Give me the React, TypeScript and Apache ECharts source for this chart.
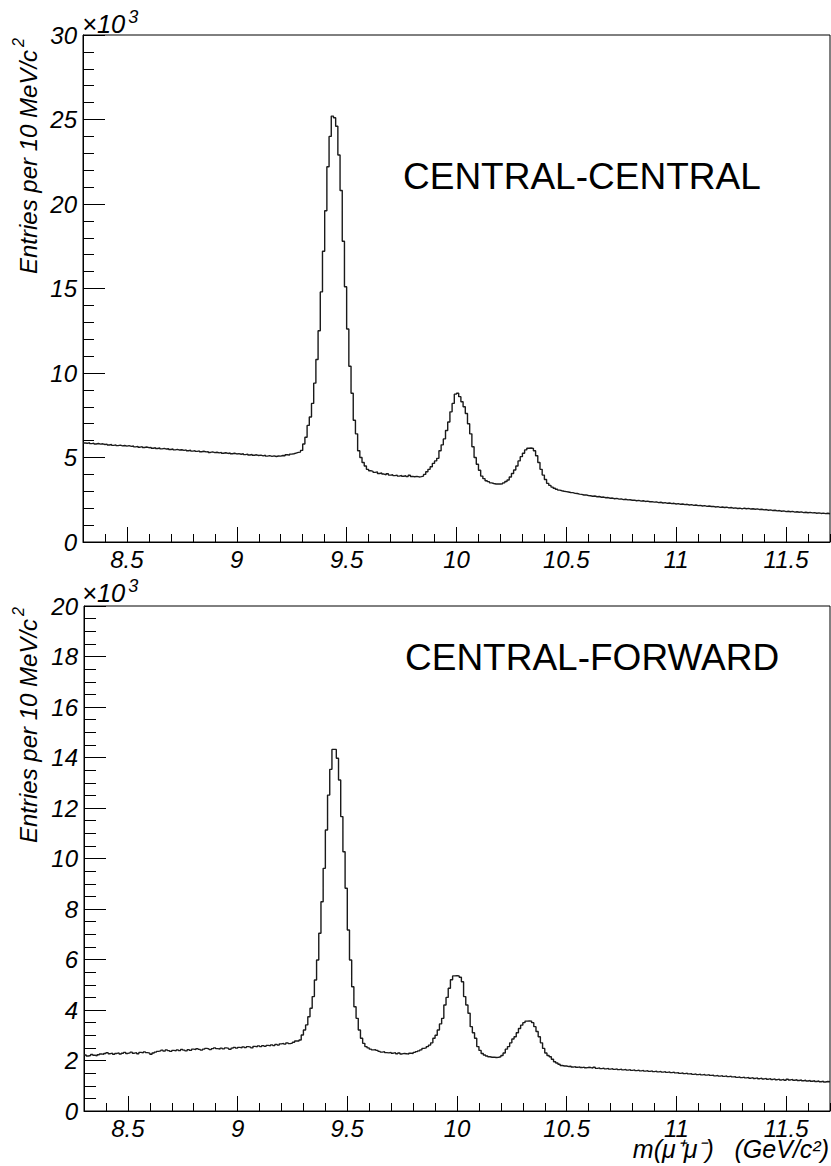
import { useEffect, useRef } from "react";
import * as echarts from "echarts";

// ---- axis / binning ----
const X_MIN = 8.3;
const X_MAX = 11.7;
const BIN_WIDTH = 0.01; // 10 MeV bins
const X_MAJOR = [8.5, 9, 9.5, 10, 10.5, 11, 11.5];

// ---- panel labels & titles ----
const LABEL_CC = "CENTRAL-CENTRAL";
const LABEL_CF = "CENTRAL-FORWARD";
const Y_TITLE = "Entries per 10 MeV/c";
const X_TITLE = "m(μ⁺μ⁻)   (GeV/c²)";

// ---- CENTRAL-CENTRAL entries per bin (x10^3), bins from 8.30 GeV, one row per 0.1 GeV ----
const CC = [
  5.86, 5.84, 5.88, 5.82, 5.85, 5.80, 5.83, 5.79, 5.81, 5.77,
  5.79, 5.74, 5.77, 5.72, 5.75, 5.70, 5.73, 5.69, 5.71, 5.67,
  5.70, 5.66, 5.68, 5.63, 5.66, 5.61, 5.64, 5.59, 5.62, 5.58,
  5.60, 5.55, 5.58, 5.53, 5.56, 5.51, 5.54, 5.50, 5.52, 5.47,
  5.50, 5.45, 5.48, 5.44, 5.46, 5.42, 5.45, 5.40, 5.43, 5.38,
  5.41, 5.36, 5.39, 5.34, 5.37, 5.33, 5.35, 5.30, 5.33, 5.29,
  5.31, 5.27, 5.30, 5.25, 5.28, 5.24, 5.27, 5.22, 5.25, 5.21,
  5.23, 5.19, 5.22, 5.17, 5.20, 5.15, 5.18, 5.13, 5.16, 5.12,
  5.14, 5.10, 5.13, 5.08, 5.11, 5.07, 5.10, 5.06, 5.09, 5.08,
  5.12, 5.10, 5.16, 5.14, 5.20, 5.22, 5.26, 5.30, 5.32, 5.42,
  5.80, 6.20, 6.90, 7.40, 8.20, 9.40, 10.8, 12.5, 14.8, 17.2,
  19.6, 22.2, 24.0, 25.2, 25.1, 24.6, 22.9, 20.8, 17.8, 15.1,
  12.6, 10.4, 8.80, 7.20, 6.40, 5.40, 5.00, 4.70, 4.50, 4.30,
  4.22, 4.18, 4.12, 4.15, 4.05, 4.08, 4.02, 3.98, 4.04, 3.96,
  3.98, 3.93, 3.96, 3.90, 3.94, 3.89, 3.92, 3.87, 3.95, 3.88,
  3.86, 3.88, 3.85, 3.87, 3.90, 4.00, 4.16, 4.30, 4.45, 4.65,
  4.80, 4.95, 5.40, 5.75, 6.10, 6.60, 7.10, 7.70, 8.20, 8.75,
  8.80, 8.60, 8.30, 8.00, 7.60, 7.00, 6.40, 5.64, 5.00, 4.60,
  4.25, 3.90, 3.75, 3.62, 3.57, 3.50, 3.46, 3.43, 3.43, 3.43,
  3.45, 3.50, 3.58, 3.67, 3.85, 4.05, 4.26, 4.50, 4.80, 5.05,
  5.25, 5.45, 5.55, 5.56, 5.54, 5.40, 5.10, 4.70, 4.30, 3.96,
  3.70, 3.47, 3.35, 3.25, 3.18, 3.12, 3.07, 3.03, 3.00, 2.98,
  2.96, 2.93, 2.92, 2.88, 2.87, 2.83, 2.82, 2.78, 2.79, 2.75,
  2.74, 2.71, 2.72, 2.68, 2.69, 2.65, 2.66, 2.62, 2.63, 2.59,
  2.60, 2.56, 2.58, 2.54, 2.55, 2.51, 2.53, 2.49, 2.50, 2.47,
  2.48, 2.44, 2.46, 2.42, 2.44, 2.40, 2.42, 2.38, 2.39, 2.36,
  2.37, 2.33, 2.35, 2.31, 2.33, 2.29, 2.31, 2.27, 2.29, 2.25,
  2.27, 2.23, 2.25, 2.21, 2.23, 2.19, 2.21, 2.17, 2.19, 2.15,
  2.17, 2.13, 2.15, 2.11, 2.13, 2.10, 2.11, 2.07, 2.09, 2.05,
  2.07, 2.04, 2.06, 2.02, 2.04, 2.00, 2.02, 1.98, 2.00, 1.96,
  2.00, 1.97, 1.99, 1.95, 1.97, 1.94, 1.96, 1.92, 1.94, 1.90,
  1.92, 1.88, 1.90, 1.86, 1.88, 1.84, 1.86, 1.82, 1.84, 1.80,
  1.82, 1.79, 1.81, 1.77, 1.79, 1.76, 1.78, 1.74, 1.76, 1.73,
  1.75, 1.72, 1.74, 1.70, 1.72, 1.69, 1.71, 1.68, 1.70, 1.67,
];

// ---- CENTRAL-FORWARD entries per bin (x10^3) ----
const CF = [
  2.22, 2.18, 2.20, 2.24, 2.21, 2.19, 2.23, 2.26, 2.24, 2.28,
  2.31, 2.27, 2.29, 2.25, 2.28, 2.30, 2.26, 2.29, 2.32, 2.28,
  2.30, 2.33, 2.29, 2.31, 2.27, 2.32, 2.30, 2.34, 2.31, 2.29,
  2.25, 2.30, 2.33, 2.36, 2.38, 2.41, 2.37, 2.42, 2.39, 2.36,
  2.40, 2.38, 2.42, 2.39, 2.44, 2.41, 2.38, 2.43, 2.40, 2.45,
  2.43, 2.47, 2.44, 2.41, 2.45, 2.48, 2.46, 2.43, 2.47, 2.50,
  2.47, 2.45, 2.49, 2.46, 2.50, 2.48, 2.44, 2.49, 2.52, 2.49,
  2.52, 2.50, 2.54, 2.51, 2.55, 2.53, 2.50, 2.56, 2.54, 2.58,
  2.55, 2.59, 2.56, 2.60, 2.58, 2.62, 2.59, 2.64, 2.61, 2.66,
  2.68, 2.65, 2.70, 2.67, 2.69, 2.72, 2.77, 2.77, 2.81, 3.01,
  3.21, 3.41, 3.73, 4.07, 4.53, 5.19, 5.98, 7.04, 8.29, 9.61,
  11.13, 12.51, 13.53, 14.32, 14.32, 13.97, 13.11, 11.66, 10.27, 8.82,
  7.17, 5.98, 4.92, 4.13, 3.67, 3.21, 2.88, 2.68, 2.55, 2.50,
  2.45, 2.42, 2.43, 2.40, 2.36, 2.33, 2.35, 2.31, 2.30, 2.32,
  2.29, 2.31, 2.27, 2.30, 2.26, 2.28, 2.27, 2.25, 2.29, 2.28,
  2.32, 2.35, 2.38, 2.42, 2.48, 2.50, 2.55, 2.61, 2.70, 2.88,
  3.00, 3.21, 3.45, 3.67, 4.20, 4.50, 4.86, 5.20, 5.35, 5.36,
  5.35, 5.30, 5.12, 4.53, 4.20, 3.87, 3.34, 3.10, 2.88, 2.55,
  2.40, 2.28, 2.22, 2.18, 2.15, 2.13, 2.13, 2.12, 2.13, 2.15,
  2.20, 2.30, 2.45, 2.55, 2.70, 2.85, 2.94, 3.10, 3.27, 3.40,
  3.50, 3.56, 3.57, 3.56, 3.50, 3.34, 3.15, 2.94, 2.70, 2.48,
  2.30, 2.20, 2.15, 2.05, 1.95, 1.90, 1.85, 1.80, 1.78, 1.78,
  1.76, 1.77, 1.74, 1.76, 1.73, 1.75, 1.72, 1.74, 1.71, 1.73,
  1.72, 1.70, 1.73, 1.69, 1.71, 1.68, 1.70, 1.67, 1.69, 1.66,
  1.68, 1.65, 1.67, 1.64, 1.66, 1.63, 1.65, 1.62, 1.64, 1.61,
  1.63, 1.60, 1.62, 1.59, 1.61, 1.58, 1.60, 1.57, 1.59, 1.56,
  1.58, 1.55, 1.57, 1.54, 1.56, 1.53, 1.55, 1.52, 1.54, 1.51,
  1.52, 1.49, 1.51, 1.48, 1.50, 1.47, 1.48, 1.45, 1.47, 1.44,
  1.46, 1.43, 1.45, 1.42, 1.44, 1.41, 1.42, 1.39, 1.41, 1.38,
  1.40, 1.37, 1.39, 1.36, 1.38, 1.35, 1.36, 1.33, 1.35, 1.32,
  1.34, 1.31, 1.33, 1.30, 1.32, 1.29, 1.31, 1.28, 1.30, 1.27,
  1.29, 1.26, 1.28, 1.25, 1.27, 1.24, 1.26, 1.23, 1.25, 1.22,
  1.26, 1.23, 1.25, 1.22, 1.24, 1.21, 1.23, 1.20, 1.22, 1.19,
  1.21, 1.18, 1.20, 1.17, 1.19, 1.16, 1.18, 1.15, 1.17, 1.16,
];

const F = '"Liberation Sans", Arial, Helvetica, sans-serif';

// histogram as step line: one point per bin lower edge, plus the closing upper edge
function hist(vals: number[]): number[][] {
  const pts = vals.map((v, i) => [Math.round((X_MIN + i * BIN_WIDTH) * 100) / 100, v]);
  pts.push([X_MAX, vals[vals.length - 1]]);
  return pts;
}

const labelBase = { color: "#000", fontSize: 24, fontStyle: "italic", fontFamily: F };

function xAxesFor(gridIndex: number) {
  return [
    {
      type: "value",
      gridIndex,
      min: X_MIN,
      max: X_MAX,
      interval: 0.1,
      position: "bottom",
      axisLine: { show: true, onZero: false, lineStyle: { color: "#000", width: 1 } },
      axisTick: { show: true, inside: true, length: 8, lineStyle: { color: "#000", width: 1 } },
      axisLabel: { show: false },
      splitLine: { show: false },
    },
    {
      type: "value",
      gridIndex,
      min: X_MIN,
      max: X_MAX,
      position: "bottom",
      axisLine: { show: false, onZero: false },
      axisTick: {
        show: true,
        inside: true,
        length: 15,
        customValues: X_MAJOR,
        lineStyle: { color: "#000", width: 1 },
      },
      axisLabel: { ...labelBase, margin: 5, customValues: X_MAJOR },
      splitLine: { show: false },
    },
  ];
}

function yAxisFor(gridIndex: number, max: number, interval: number, minorSplit: number, minorLen: number) {
  return {
    type: "value",
    gridIndex,
    min: 0,
    max,
    interval,
    axisLine: { show: true, onZero: false, lineStyle: { color: "#000", width: 1 } },
    axisTick: { show: true, inside: true, length: 22, lineStyle: { color: "#000", width: 1 } },
    minorTick: { show: true, splitNumber: minorSplit, length: minorLen, lineStyle: { color: "#000", width: 1 } },
    axisLabel: { ...labelBase, margin: 6 },
    splitLine: { show: false },
    minorSplitLine: { show: false },
  };
}

const supRich = (fs: number, sfs: number, lh: number) => ({
  n: { fontSize: fs, fontStyle: "italic", fontFamily: F, fill: "#000", lineHeight: lh },
  s: {
    fontSize: sfs,
    fontStyle: "italic",
    fontFamily: F,
    fill: "#000",
    lineHeight: Math.round(sfs * 0.85),
    verticalAlign: "top",
    padding: [0, 1, 0, 3],
  },
});

export default function App() {
  const ref = useRef<HTMLDivElement>(null);

  useEffect(() => {
    if (!ref.current) return;
    const chart = echarts.init(ref.current, null, { renderer: "svg" });

    const option: any = {
      animation: false,
      backgroundColor: "#fff",
      grid: [
        { left: 83, top: 35, width: 747, height: 507, show: true, borderColor: "#000", borderWidth: 1, backgroundColor: "transparent" },
        { left: 84, top: 606, width: 746, height: 505, show: true, borderColor: "#000", borderWidth: 1, backgroundColor: "transparent" },
      ],
      xAxis: [...xAxesFor(0), ...xAxesFor(1)],
      yAxis: [yAxisFor(0, 30, 5, 5, 11), yAxisFor(1, 20, 2, 4, 12)],
      series: [
        {
          type: "line",
          xAxisIndex: 0,
          yAxisIndex: 0,
          data: hist(CC),
          step: "end",
          symbol: "none",
          silent: true,
          lineStyle: { color: "#1a1a1a", width: 1.4 },
        },
        {
          type: "line",
          xAxisIndex: 2,
          yAxisIndex: 1,
          data: hist(CF),
          step: "end",
          symbol: "none",
          silent: true,
          lineStyle: { color: "#1a1a1a", width: 1.4 },
        },
      ],
      graphic: [
        // x10^3 multipliers
        {
          type: "text",
          x: 82,
          y: 24,
          style: { text: "{n|×10}{s|3}", rich: supRich(25.5, 18, 32), align: "left", verticalAlign: "middle" },
        },
        {
          type: "text",
          x: 82,
          y: 593,
          style: { text: "{n|×10}{s|3}", rich: supRich(25.5, 18, 32), align: "left", verticalAlign: "middle" },
        },
        // y-axis titles (rotated)
        {
          type: "text",
          x: 28.5,
          y: 37,
          rotation: Math.PI / 2,
          style: { text: "{n|" + Y_TITLE + "}{s|2}", rich: supRich(24, 16, 36), align: "right", verticalAlign: "middle" },
        },
        {
          type: "text",
          x: 28.5,
          y: 606,
          rotation: Math.PI / 2,
          style: { text: "{n|" + Y_TITLE + "}{s|2}", rich: supRich(24, 16, 36), align: "right", verticalAlign: "middle" },
        },
        // x-axis title (single text; superscripts as Unicode characters)
        {
          type: "text",
          x: 829,
          y: 1158 - 0.3465 * 25,
          style: { text: X_TITLE, fontSize: 25, fontStyle: "italic", fontFamily: F, fill: "#000", align: "right", verticalAlign: "middle" },
        },
        // panel labels
        {
          type: "text",
          x: 403,
          y: 176,
          style: { text: LABEL_CC, fontSize: 37, fontFamily: F, fill: "#000", align: "left", verticalAlign: "middle" },
        },
        {
          type: "text",
          x: 405,
          y: 657,
          style: { text: LABEL_CF, fontSize: 37, fontFamily: F, fill: "#000", align: "left", verticalAlign: "middle" },
        },
      ],
    };

    chart.setOption(option);
    return () => chart.dispose();
  }, []);

  return (
    <div
      ref={ref}
      style={{ position: "absolute", left: 0, top: 0, width: 831, height: 1166, background: "#fff" }}
    />
  );
}
